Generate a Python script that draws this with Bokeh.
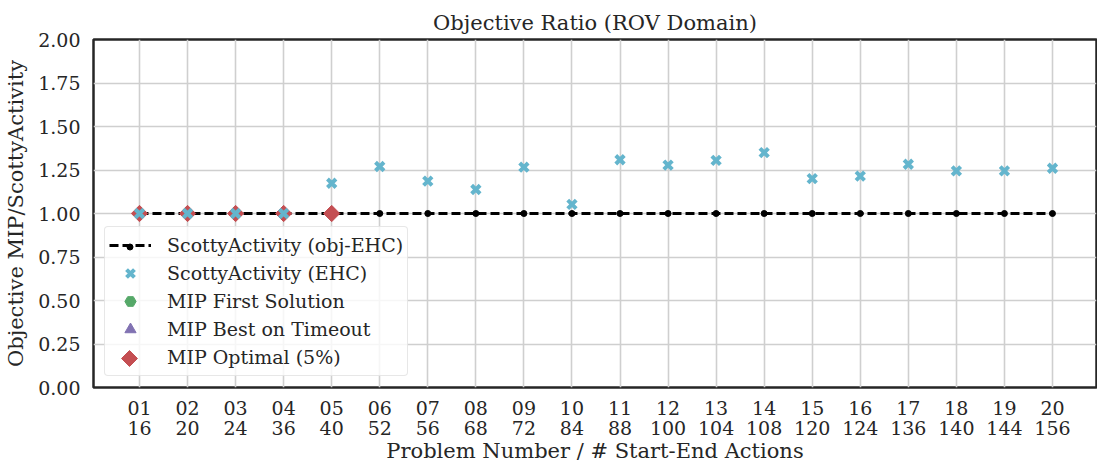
import math
from bokeh.plotting import figure
from bokeh.models import (ColumnDataSource, Legend, LegendItem, FixedTicker, Range1d,
                          NumeralTickFormatter, LinearAxis)
from bokeh.embed import file_html
from bokeh.resources import INLINE

# ---- data ----
problems = ["01", "02", "03", "04", "05", "06", "07", "08", "09", "10",
            "11", "12", "13", "14", "15", "16", "17", "18", "19", "20"]
actions = ["16", "20", "24", "36", "40", "52", "56", "68", "72", "84",
           "88", "100", "104", "108", "120", "124", "136", "140", "144", "156"]
obj_ehc = [1.00, 1.00, 1.00, 1.00, 1.00, 1.00, 1.00, 1.00, 1.00, 1.00,
           1.00, 1.00, 1.00, 1.00, 1.00, 1.00, 1.00, 1.00, 1.00, 1.00]
ehc = [1.00, 1.00, 1.00, 1.00, 1.174, 1.27, 1.186, 1.138, 1.266, 1.052,
       1.309, 1.278, 1.305, 1.35, 1.20, 1.215, 1.283, 1.245, 1.245, 1.26]
mip_first_problems = []
mip_first = []
mip_best_problems = []
mip_best = []
mip_opt_problems = ["01", "02", "03", "04", "05"]
mip_opt = [1.00, 1.00, 1.00, 1.00, 1.00]
y_ticks = [0.0, 0.25, 0.5, 0.75, 1.0, 1.25, 1.5, 1.75, 2.0]

FONT = "DejaVu Serif"
TXT = "#262626"
NAN = float("nan")

pos = {p: i for i, p in enumerate(problems)}

p = figure(width=1097, height=465, output_backend="svg", toolbar_location=None,
           x_range=Range1d(-0.957, 19.916), y_range=Range1d(0, 2),
           min_border_left=93, min_border_right=1, min_border_top=39, min_border_bottom=78)

p.title.text = "Objective Ratio (ROV Domain)"
p.title.text_font = FONT
p.title.text_font_size = "21px"
p.title.text_font_style = "normal"
p.title.text_color = TXT
p.title.align = "center"
p.title.standoff = 10

p.outline_line_color = TXT
p.outline_line_width = 2.5
p.outline_line_alpha = 1

for g in (p.xgrid, p.ygrid):
    g.grid_line_color = "#cfcfcf"
    g.grid_line_width = 1.6

x_ticks = [pos[q] for q in problems]
p.xaxis.ticker = FixedTicker(ticks=x_ticks)
p.xaxis.major_label_overrides = {pos[q]: q for q in problems}
ax2 = LinearAxis(ticker=FixedTicker(ticks=x_ticks),
                 major_label_overrides={pos[q]: a for q, a in zip(problems, actions)},
                 axis_label="Problem Number / # Start-End Actions")
p.add_layout(ax2, "below")
p.yaxis.ticker = FixedTicker(ticks=y_ticks)
p.yaxis.formatter = NumeralTickFormatter(format="0.00")
p.yaxis.axis_label = "Objective MIP/ScottyActivity"
for ax in (p.xaxis[0], ax2, p.yaxis[0]):
    ax.axis_line_color = None
    ax.major_tick_line_color = None
    ax.minor_tick_line_color = None
    ax.major_tick_out = 0
    ax.major_tick_in = 0
    ax.minor_tick_out = 0
    ax.minor_tick_in = 0
    ax.major_label_text_font = FONT
    ax.major_label_text_font_size = "19px"
    ax.major_label_text_color = TXT
    ax.axis_label_text_font = FONT
    ax.axis_label_text_font_size = "21px"
    ax.axis_label_text_font_style = "normal"
    ax.axis_label_text_color = TXT
p.xaxis[0].major_label_standoff = 13
ax2.major_label_standoff = 3
ax2.axis_label_standoff = 1
p.yaxis.major_label_standoff = 13
p.yaxis.axis_label_standoff = 7

line_src = ColumnDataSource(dict(x=[pos[q] for q in problems], y=obj_ehc))
ehc_src = ColumnDataSource(dict(x=[pos[q] for q in problems], y=ehc))
first_src = ColumnDataSource(dict(x=[pos[q] for q in mip_first_problems], y=mip_first))
best_src = ColumnDataSource(dict(x=[pos[q] for q in mip_best_problems], y=mip_best))
opt_src = ColumnDataSource(dict(x=[pos[q] for q in mip_opt_problems], y=mip_opt))
key_src = ColumnDataSource(dict(x=[NAN], y=[NAN]))  # legend keys only, nothing drawn

r_line = p.line("x", "y", source=line_src, line_color="black", line_width=2.8, line_dash="9 4")
r_dots = p.scatter("x", "y", source=line_src, marker="circle", size=6, fill_color="black", line_color="black")
r_first = p.scatter("x", "y", source=first_src, marker="hex", size=13, fill_color="#55A868", line_color="#55A868")
r_best = p.scatter("x", "y", source=best_src, marker="triangle", size=13, fill_color="#8172B2", line_color="#8172B2")
r_opt = p.scatter("x", "y", source=opt_src, marker="square", angle=math.pi / 4, size=11.5,
                  fill_color="#C44E52", line_color="#C44E52")
r_ehc = p.scatter("x", "y", source=ehc_src, marker="x", size=12, line_color="#64B5CD", line_width=4)

k_dot = p.scatter("x", "y", source=key_src, marker="circle", size=6, line_color="black", fill_color="black")
k_first = p.scatter("x", "y", source=key_src, marker="hex", size=13, fill_color="#55A868", line_color="#55A868")
k_best = p.scatter("x", "y", source=key_src, marker="triangle", size=13, fill_color="#8172B2", line_color="#8172B2")
try:
    k_opt = p.ngon("x", "y", source=key_src, radius=8, radius_units="screen", n=4,
                   fill_color="#C44E52", line_color="#C44E52")
except Exception:
    k_opt = p.scatter("x", "y", source=key_src, marker="diamond", size=14,
                      fill_color="#C44E52", line_color="#C44E52", line_width=2)

LEG_X, LEG_Y = 11, 11
PAD, GW, GH = 4, 42, 28
legend = Legend(items=[
    LegendItem(label="ScottyActivity (obj-EHC)", renderers=[r_line]),
    LegendItem(label="ScottyActivity (EHC)", renderers=[r_ehc]),
    LegendItem(label="MIP First Solution", renderers=[k_first]),
    LegendItem(label="MIP Best on Timeout", renderers=[k_best]),
    LegendItem(label="MIP Optimal (5%)", renderers=[k_opt]),
], location=(LEG_X, LEG_Y))
legend.label_text_font = FONT
legend.label_text_font_size = "19px"
legend.label_text_color = TXT
legend.glyph_width = GW
legend.glyph_height = GH
legend.label_height = GH
legend.spacing = 0
legend.padding = PAD
legend.margin = 0
legend.label_standoff = 16
legend.border_line_color = "#d0d0d0"
legend.border_line_width = 1
legend.border_radius = 4
legend.background_fill_color = "white"
legend.background_fill_alpha = 0.8
p.add_layout(legend)


def overlay_key(renderer, box, row):
    """Transparent one-glyph legend centred on the key of legend row `row` (0 = top)."""
    k = Legend(items=[LegendItem(label="", renderers=[renderer])],
               location=(LEG_X + PAD + GW / 2 - box / 2,
                         LEG_Y + PAD + (4 - row) * GH + GH / 2 - box / 2))
    k.glyph_width = box
    k.glyph_height = box
    k.label_height = box
    k.label_width = 0
    k.label_standoff = 0
    k.padding = 0
    k.margin = 0
    k.spacing = 0
    k.border_line_color = None
    k.background_fill_alpha = 0
    k.label_text_font_size = "1px"
    p.add_layout(k)


overlay_key(k_dot, 15, 0)   # small dot on the dashed line
overlay_key(k_opt, 40, 4)   # larger diamond key

open("out.html", "w").write(file_html(p, INLINE))
